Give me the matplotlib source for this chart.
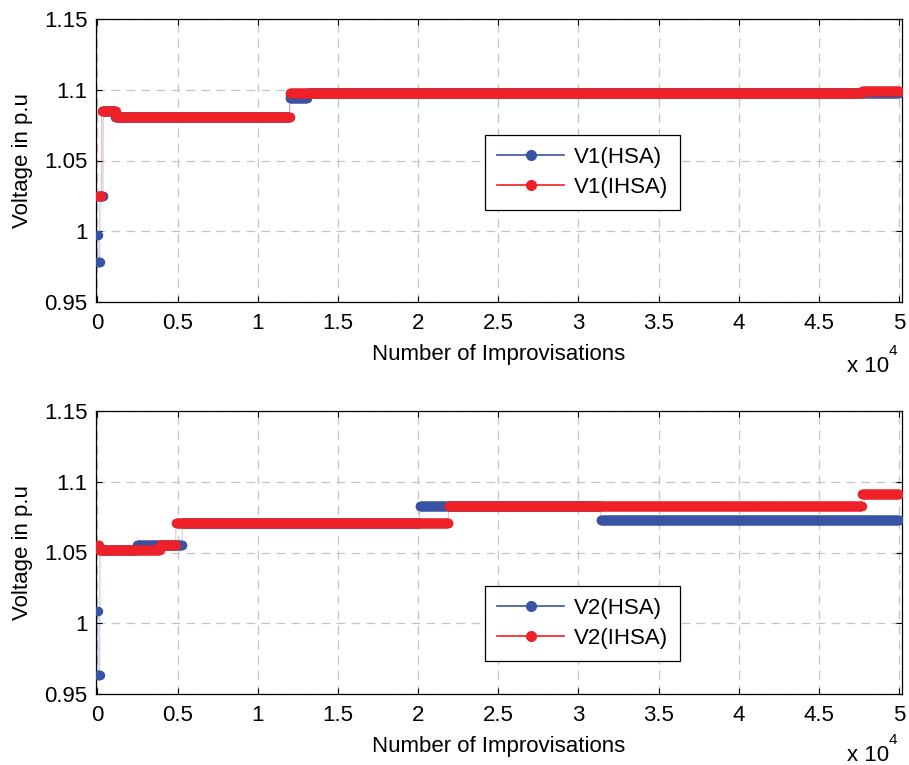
import matplotlib.pyplot as plt
from matplotlib.lines import Line2D
import numpy as np

plt.rcParams['font.family'] = ['Liberation Sans', 'DejaVu Sans']

# iteration where each level starts, and the level held from there on
v1_hsa_start = [1, 25, 150, 350, 1100, 12000, 13100]
v1_hsa_level = [0.997, 0.978, 1.025, 1.085, 1.081, 1.094, 1.098]
v1_ihsa_start = [1, 250, 1150, 12000, 47700]
v1_ihsa_level = [1.025, 1.085, 1.081, 1.098, 1.0993]

v2_hsa_start = [1, 25, 150, 2450, 5300, 20100, 31400]
v2_hsa_level = [1.009, 0.9635, 1.052, 1.055, 1.071, 1.083, 1.073]
v2_ihsa_start = [1, 100, 3900, 4900, 21900, 47700]
v2_ihsa_level = [1.055, 1.0515, 1.055, 1.071, 1.0826, 1.0915]

n_iter = 50000
x_ticks = [0, 5000, 10000, 15000, 20000, 25000, 30000, 35000, 40000, 45000, 50000]
x_ticklabels = ['0', '0.5', '1', '1.5', '2', '2.5', '3', '3.5', '4', '4.5', '5']
y_ticks = [0.95, 1.0, 1.05, 1.1, 1.15]
y_ticklabels = ['0.95', '1', '1.05', '1.1', '1.15']

BLUE = '#3953a4'
RED = '#ee2128'


def history(start, level, it):
    idx = np.searchsorted(start, it, side='right') - 1
    return np.asarray(level)[idx]


it = np.arange(1, n_iter + 1, 20)
it = np.append(it, n_iter)

fig = plt.figure(figsize=(9.09, 7.65), dpi=100)
ax1 = fig.add_axes([96 / 909, 1 - 302 / 765, 806 / 909, 283 / 765])
ax2 = fig.add_axes([96 / 909, 1 - 694 / 765, 806 / 909, 283 / 765])

panels = [
    (ax1, v1_hsa_start, v1_hsa_level, v1_ihsa_start, v1_ihsa_level,
     ['V1(HSA)', 'V1(IHSA)'], 0.590, -0.247),
    (ax2, v2_hsa_start, v2_hsa_level, v2_ihsa_start, v2_ihsa_level,
     ['V2(HSA)', 'V2(IHSA)'], 0.382, -0.238),
]

for ax, hs, hl, is_, il, names, leg_y, exp_y in panels:
    for s, l, c in [(hs, hl, BLUE), (is_, il, RED)]:
        y = history(s, l, it)
        ax.plot(it, y, color=c, lw=0.8, alpha=0.3, zorder=2)
        ax.plot(it, y, ls='none', marker='o', ms=6.8, mew=0, color=c, zorder=3)

    ax.set_xlim(-90, 50190)
    ax.set_ylim(0.95, 1.15)
    ax.set_xticks(x_ticks)
    ax.set_xticklabels(x_ticklabels)
    ax.set_yticks(y_ticks)
    ax.set_yticklabels(y_ticklabels)
    ax.tick_params(direction='in', top=True, right=True, labelsize=16,
                   length=4, width=0.8)
    ax.tick_params(axis='x', pad=8)
    ax.tick_params(axis='y', pad=6)
    ax.grid(True, color='#c4c4c4', lw=0.9, dashes=(7, 5))
    ax.set_axisbelow(True)
    for sp in ax.spines.values():
        sp.set_linewidth(0.9)
    ax.set_xlabel('Number of Improvisations', fontsize=16, labelpad=7)
    ax.set_ylabel('Voltage in p.u', fontsize=16, labelpad=8)

    handles = [Line2D([], [], color=BLUE, lw=1.2, marker='o', ms=7),
               Line2D([], [], color=RED, lw=1.2, marker='o', ms=7)]
    leg = ax.legend(handles, names, loc='upper left',
                    bbox_to_anchor=(0.4826, leg_y), borderaxespad=0,
                    fontsize=16, numpoints=1, handlelength=3.0,
                    fancybox=False, framealpha=1, edgecolor='black',
                    borderpad=0.55, labelspacing=0.4, handletextpad=0.45)
    leg.get_frame().set_linewidth(0.9)

    ax.text(0.932, exp_y, 'x 10', transform=ax.transAxes, fontsize=16,
            ha='left', va='baseline')
    ax.text(0.984, exp_y + 0.06, '4', transform=ax.transAxes, fontsize=11,
            ha='left', va='baseline')

fig.savefig('out.png', dpi=100)
